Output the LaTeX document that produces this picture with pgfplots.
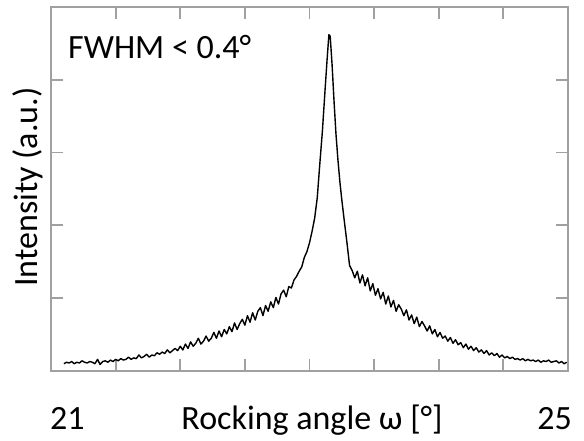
\documentclass[border=0pt]{standalone}
\usepackage{pgfplots}
\pgfplotsset{compat=1.18}
\usepackage{fontspec}
\setmainfont{Carlito}
\definecolor{axgray}{RGB}{160,160,160}

\begin{document}
\fontsize{34}{40}\selectfont
\begin{tikzpicture}
% fix the page to the reference frame (axis box is 517 x 364)
\path[use as bounding box] (-51pt,-70pt) rectangle (533pt,371pt);
\begin{axis}[
    at={(0,0)}, anchor=south west,
    width=517pt, height=364pt,
    scale only axis,
    xmin=21, xmax=25,
    ymin=0, ymax=5,
    xtick={21.5,22,22.5,23,23.5,24,24.5},
    ytick={1,2,3,4},
    xticklabels={}, yticklabels={},
    tick align=inside,
    major tick length=12pt,
    axis line style={axgray, line width=1.8pt},
    every tick/.style={axgray, line width=1.8pt},
    clip=false,
]
\addplot[black, line width=1.4pt, line join=round] table {
x y
21.10 0.10
21.12 0.12
21.14 0.11
21.16 0.13
21.18 0.10
21.20 0.12
21.22 0.11
21.24 0.14
21.26 0.12
21.28 0.11
21.30 0.13
21.32 0.12
21.34 0.10
21.36 0.16
21.38 0.09
21.40 0.13
21.42 0.14
21.44 0.12
21.46 0.15
21.48 0.13
21.50 0.16
21.52 0.14
21.54 0.17
21.56 0.15
21.58 0.16
21.60 0.19
21.62 0.16
21.64 0.18
21.66 0.17
21.68 0.22
21.70 0.18
21.72 0.20
21.74 0.23
21.76 0.19
21.78 0.22
21.80 0.21
21.82 0.25
21.84 0.23
21.86 0.26
21.88 0.24
21.90 0.29
21.92 0.25
21.94 0.28
21.96 0.31
21.98 0.28
22.00 0.34
22.02 0.29
22.04 0.37
22.06 0.31
22.08 0.40
22.10 0.34
22.12 0.38
22.14 0.45
22.16 0.37
22.18 0.41
22.20 0.48
22.22 0.41
22.24 0.45
22.26 0.53
22.28 0.45
22.30 0.55
22.32 0.47
22.34 0.57
22.36 0.51
22.38 0.61
22.40 0.54
22.42 0.66
22.44 0.57
22.46 0.65
22.48 0.71
22.50 0.63
22.52 0.76
22.54 0.67
22.56 0.80
22.58 0.70
22.60 0.82
22.62 0.87
22.64 0.76
22.66 0.90
22.68 0.82
22.70 0.95
22.72 0.87
22.74 1.01
22.76 0.92
22.78 1.06
22.80 1.11
22.82 1.02
22.84 1.16
22.86 1.14
22.88 1.25
22.90 1.30
22.92 1.37
22.94 1.43
22.96 1.56
22.98 1.64
23.00 1.76
23.020 1.92
23.040 2.10
23.060 2.38
23.080 2.85
23.100 3.30
23.120 3.85
23.135 4.25
23.150 4.62
23.160 4.60
23.175 4.20
23.190 3.70
23.205 3.25
23.220 2.90
23.235 2.60
23.250 2.35
23.270 2.05
23.290 1.76
23.31 1.45
23.33 1.38
23.35 1.28
23.37 1.37
23.39 1.21
23.41 1.32
23.43 1.17
23.45 1.28
23.47 1.10
23.49 1.20
23.51 1.04
23.53 1.13
23.55 0.99
23.57 1.08
23.59 0.92
23.61 1.03
23.63 0.88
23.65 0.97
23.67 0.82
23.69 0.91
23.71 0.85
23.73 0.76
23.75 0.84
23.77 0.70
23.79 0.77
23.81 0.65
23.83 0.74
23.85 0.61
23.87 0.68
23.89 0.62
23.91 0.55
23.93 0.62
23.95 0.51
23.97 0.57
23.99 0.47
24.01 0.53
24.03 0.45
24.05 0.48
24.07 0.41
24.09 0.46
24.11 0.38
24.13 0.43
24.15 0.36
24.17 0.39
24.19 0.32
24.21 0.37
24.23 0.30
24.25 0.34
24.27 0.28
24.29 0.32
24.31 0.26
24.33 0.29
24.35 0.24
24.37 0.28
24.39 0.22
24.41 0.25
24.43 0.21
24.45 0.24
24.47 0.19
24.49 0.22
24.51 0.18
24.53 0.20
24.55 0.17
24.57 0.19
24.59 0.16
24.61 0.17
24.63 0.15
24.65 0.17
24.67 0.14
24.69 0.16
24.71 0.14
24.73 0.15
24.75 0.13
24.77 0.15
24.79 0.12
24.81 0.14
24.83 0.13
24.85 0.15
24.87 0.12
24.89 0.13
24.91 0.14
24.93 0.11
24.95 0.13
24.97 0.10
24.99 0.12
};
\node[anchor=base west, inner sep=0pt] at ([shift={(17pt,312pt)}]rel axis cs:0,0) {FWHM < 0.4°};
\node[anchor=base west, inner sep=0pt] at ([shift={(-1pt,-59pt)}]rel axis cs:0,0) {21};
\node[anchor=base east, inner sep=0pt] at ([shift={(4pt,-59pt)}]rel axis cs:1,0) {25};
\node[anchor=base, inner sep=0pt] at ([shift={(0pt,-59pt)}]rel axis cs:0.505,0) {Rocking angle ω [°]};
\node[anchor=base, rotate=90, inner sep=0pt] at ([shift={(-13pt,0pt)}]rel axis cs:0,0.505) {Intensity (a.u.)};
\end{axis}
\end{tikzpicture}
\end{document}
